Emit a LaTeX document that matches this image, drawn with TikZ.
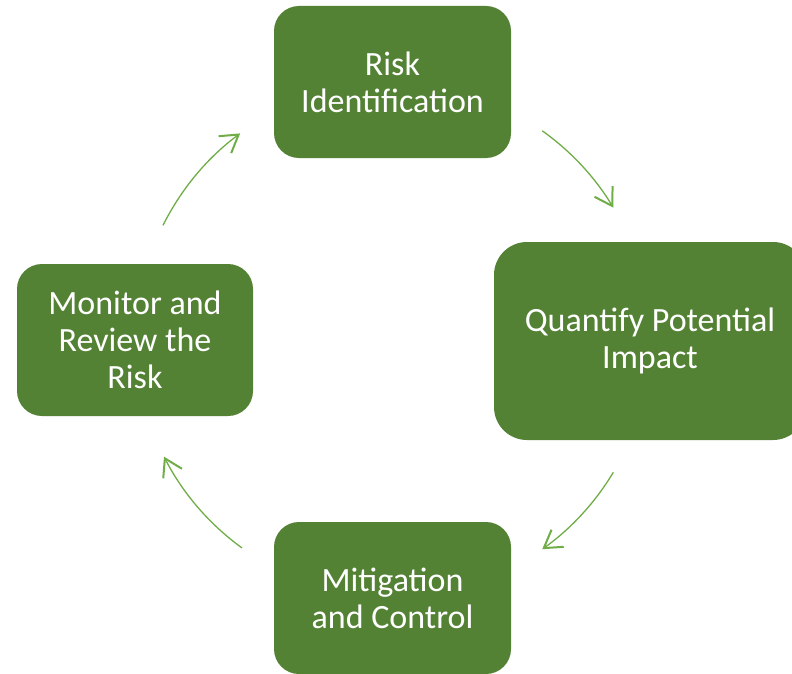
\documentclass[tikz,border=0pt]{standalone}
\usepackage{fontspec}
\setmainfont{Carlito}
\usetikzlibrary{arrows.meta}
\definecolor{boxgreen}{HTML}{548235}
\definecolor{arrowgreen}{HTML}{70AD47}
\begin{document}
\begin{tikzpicture}[x=1pt,y=-1pt,
  stagebox/.style={fill=boxgreen, draw=none, text=white, align=center,
    font=\fontsize{34}{37}\selectfont, inner sep=0pt},
  cyclearrow/.style={draw=arrowgreen, line width=1.3pt,
    -{Straight Barb[length=17pt,width=21pt,line width=2pt]}}]
\useasboundingbox (0,0) rectangle (792,674);
\clip (0,0) rectangle (792,674);
\fill[white] (0,0) rectangle (792,674);
\coordinate (c) at (393,340);
\node[stagebox, minimum width=237pt, minimum height=152pt, rounded corners=25pt] (ident) at (392.5,82) {Risk\\Identification};
\node[stagebox, minimum width=312pt, minimum height=198pt, rounded corners=33pt] (quant) at (650,341) {Quantify Potential\\Impact};
\node[stagebox, minimum width=237pt, minimum height=152pt, rounded corners=25pt] (mitig) at (392.5,598) {Mitigation\\and Control};
\node[stagebox, minimum width=236pt, minimum height=152pt, rounded corners=25pt] (monit) at (135,340) {Monitor and\\Review the\\Risk};
\draw[cyclearrow] (c) ++(-54.5:257) arc[start angle=-54.5, end angle=-31, radius=257];
\draw[cyclearrow] (c) ++(31:257) arc[start angle=31, end angle=54.5, radius=257];
\draw[cyclearrow] (c) ++(126:257) arc[start angle=126, end angle=153, radius=257];
\draw[cyclearrow] (c) ++(-153.5:257) arc[start angle=-153.5, end angle=-126.5, radius=257];
\end{tikzpicture}
\end{document}
